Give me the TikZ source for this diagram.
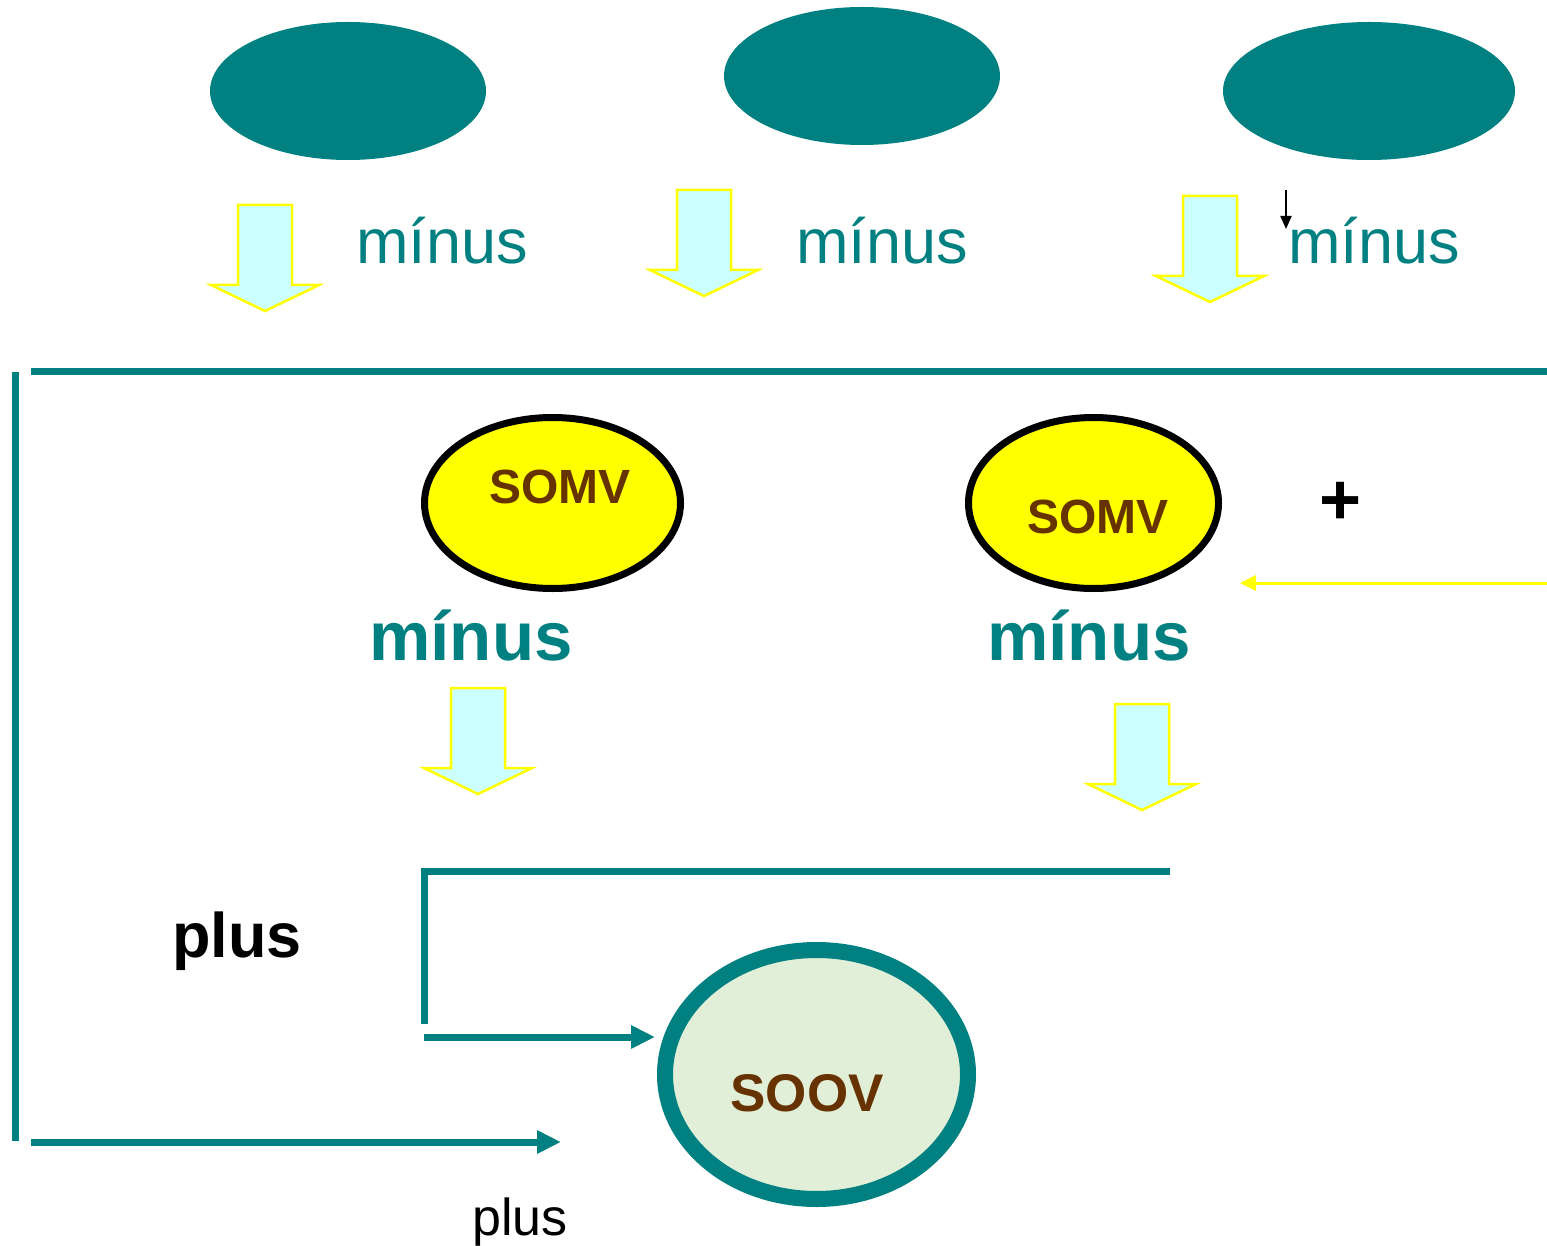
\documentclass[tikz,border=0pt]{standalone}
\usepackage{fontspec}
\setmainfont{Liberation Sans}
\usetikzlibrary{arrows.meta,shapes.geometric}
\definecolor{tealc}{RGB}{0,128,128}
\definecolor{somvtext}{RGB}{102,51,0}
\definecolor{cyanfill}{RGB}{204,255,255}
\definecolor{soovfill}{RGB}{225,238,216}
\definecolor{pureyellow}{RGB}{255,255,0}
\tikzset{
  x=1pt, y=-1pt,
  topoval/.style={ellipse, fill=tealc, inner sep=0pt, minimum height=138},
  somvoval/.style={ellipse, draw=black, line width=7, fill=pureyellow, inner sep=0pt},
  soovoval/.style={ellipse, draw=tealc, line width=16, fill=soovfill, inner sep=0pt,
    minimum width=303, minimum height=249},
  lbl/.style={inner sep=0pt, anchor=base},
  minustext/.style={lbl, text=tealc, font=\fontsize{63}{70}\selectfont},
  minusbold/.style={lbl, text=tealc, font=\fontsize{69}{75}\selectfont\bfseries},
  somvlbl/.style={inner sep=0pt, text=somvtext, font=\fontsize{48}{54}\selectfont\bfseries},
  tealline/.style={draw=tealc, line width=7},
  tealarrow/.style={tealline, -{Triangle[length=24, width=22]}},
  blockdown/.pic={
    \path[draw=pureyellow, line width=2.5, fill=cyanfill]
      (-27,0) -- (27,0) -- (27,80) -- (54,80) -- (0,106) -- (-54,80) -- (-27,80) -- cycle;
  },
}
\begin{document}
\begin{tikzpicture}
\useasboundingbox (0,0) rectangle (1547,1246);

% top row of ovals
\node[topoval, minimum width=276] (o1) at (348,91) {};
\node[topoval, minimum width=276] (o2) at (862,76) {};
\node[topoval, minimum width=292] (o3) at (1369,91) {};

% block arrows under the ovals
\pic at (265,205) {blockdown};
\pic at (704,190) {blockdown};
\pic at (1210,196) {blockdown};

\node[minustext] (m1) at (442,264) {mínus};
\node[minustext] (m2) at (882,264) {mínus};
\node[minustext] (m3) at (1374,264) {mínus};

% small black marker arrow
\coordinate (k1) at (1286,190);
\coordinate (k2) at (1286,229);
\draw[black, line width=2, -{Triangle[length=13, width=11]}] (k1) -- (k2);

% frame lines
\coordinate (t1) at (31,372);
\coordinate (t2) at (1547,372);
\coordinate (l1) at (15,372);
\coordinate (l2) at (15,1141);
\coordinate (b1) at (31,1142);
\coordinate (b2) at (561,1142);
\draw[tealline] (t1) -- (t2);
\draw[tealline] (l1) -- (l2);
\draw[tealarrow] (b1) -- (b2);

% SOMV ovals
\node[somvoval, minimum width=256, minimum height=171] (s1) at (552.5,503) {};
\node[somvlbl] at (560,487) {SOMV};
\node[somvoval, minimum width=250, minimum height=171] (s2) at (1093.5,503) {};
\node[somvlbl] at (1098,517) {SOMV};

\node[minusbold] (mb1) at (471,660) {mínus};
\node[minusbold] (mb2) at (1089,660) {mínus};

\node[inner sep=0pt, font=\fontsize{72}{78}\selectfont\bfseries] (pl) at (1341,503) {+};

% yellow feedback arrow
\coordinate (y1) at (1547,583);
\coordinate (y2) at (1240,583);
\draw[pureyellow, line width=3, -{Triangle[length=16, width=15]}] (y1) -- (y2);

% block arrows under the SOMV ovals
\pic at (478,688) {blockdown};
\pic at (1142,704) {blockdown};

% inner bracket
\coordinate (i1) at (424,871);
\coordinate (i2) at (1170,871);
\coordinate (i3) at (424,868);
\coordinate (i4) at (424,1024);
\coordinate (a1) at (424,1037);
\coordinate (a2) at (655,1037);
\draw[tealline] (i1) -- (i2);
\draw[tealline] (i3) -- (i4);
\draw[tealarrow] (a1) -- (a2);

\node[lbl, font=\fontsize{63}{70}\selectfont\bfseries] (p1) at (237,957) {plus};

% SOOV oval
\node[soovoval] (sv) at (816.5,1074.5) {};
\node[inner sep=0pt, text=somvtext, font=\fontsize{53}{60}\selectfont\bfseries] at (807,1093) {SOOV};

\node[lbl, font=\fontsize{52}{60}\selectfont] (p2) at (520,1235) {plus};
\end{tikzpicture}
\end{document}
